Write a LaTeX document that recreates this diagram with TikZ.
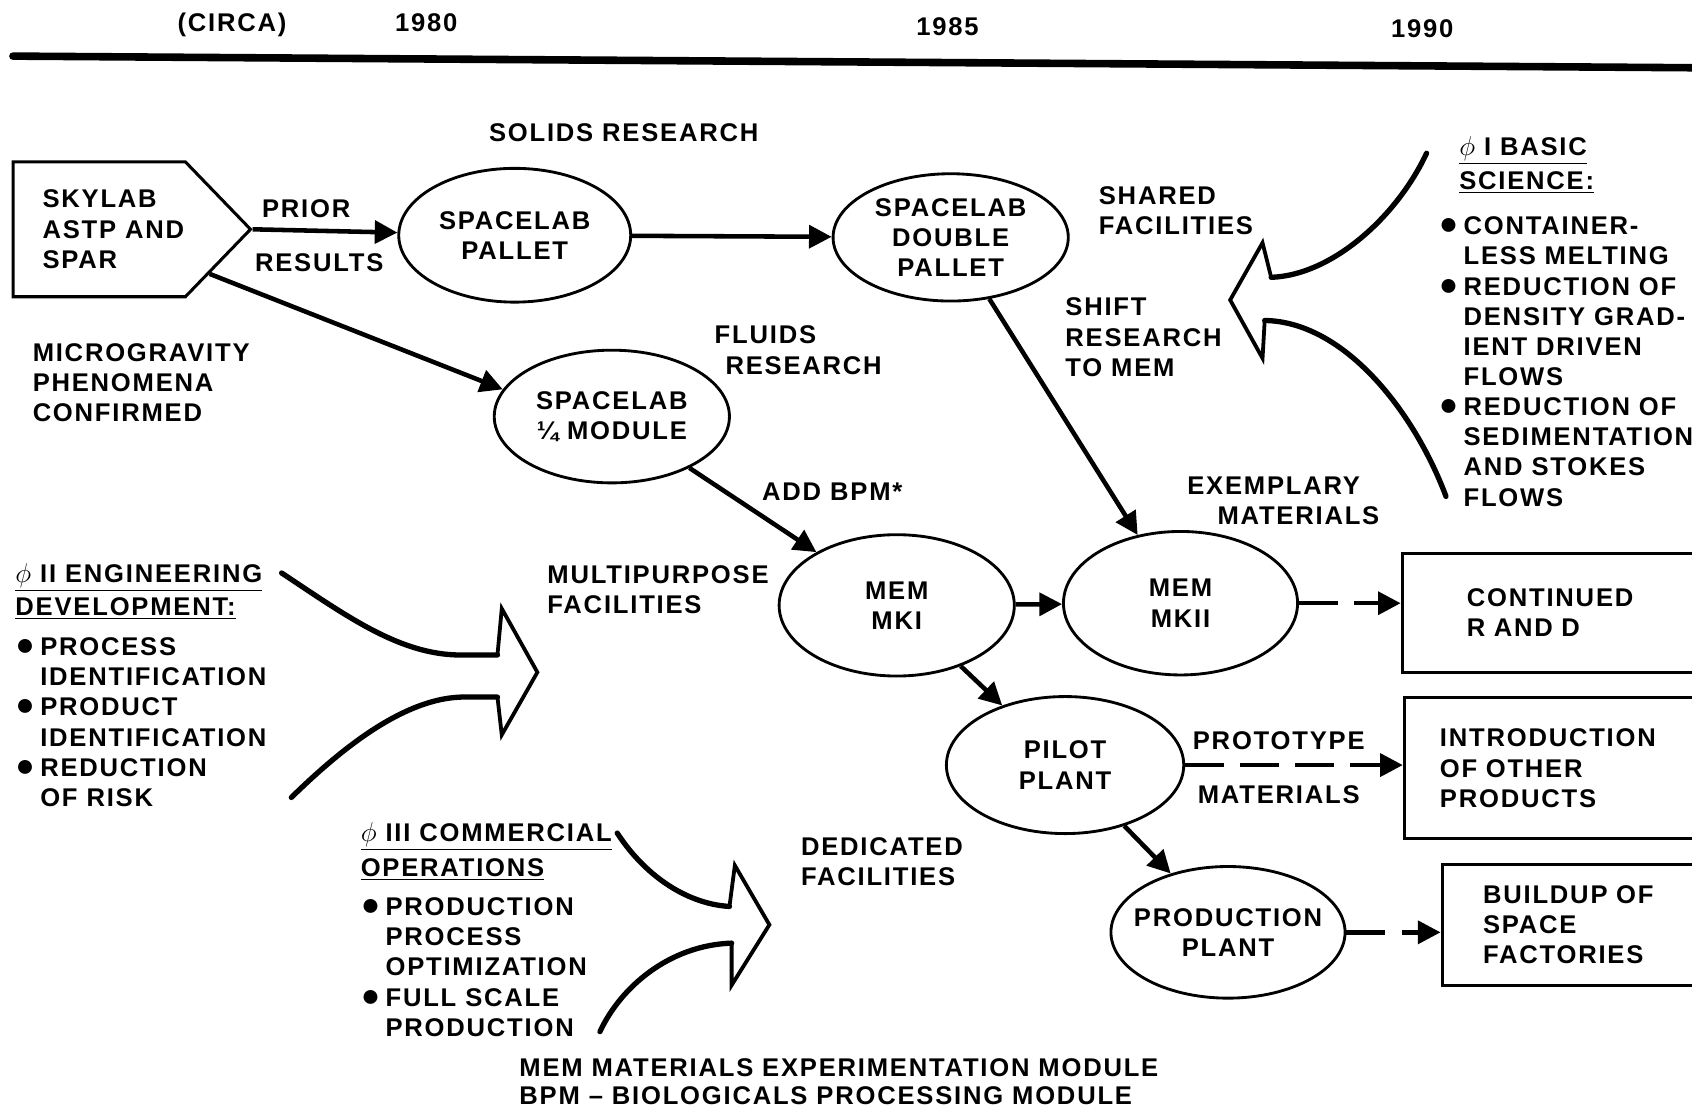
\documentclass[tikz,border=0pt]{standalone}
\usepackage{fontspec}
\setmainfont{Liberation Sans}[LetterSpace=7]
\usetikzlibrary{arrows.meta, positioning, shapes.geometric, shapes.symbols}

\newcommand{\itemdot}{\makebox[0.46cm][l]{\fontsize{17pt}{15.9pt}\selectfont ●}}
\newcommand{\itemgap}{\hspace*{0.46cm}}

\begin{document}
\begin{tikzpicture}[
		x=0.02cm, y=-0.02cm,
		font=\fontsize{13.5pt}{15.9pt}\selectfont\bfseries,
		tag/.style={inner sep=0pt, align=left},
		stage/.style={draw, ellipse, line width=1.5pt, inner sep=0pt, align=center, minimum width=4.36cm, minimum height=2.48cm},
		outcome/.style={draw, rectangle, line width=1.6pt, align=left, text width=6cm, inner ysep=0pt, anchor=west},
		arrow/.style={-{Triangle[length=4.2mm, width=4.2mm]}, line width=2.4pt},
		dasharrow/.style={arrow, dash pattern=on 0.72cm off 0.3cm},
		phase/.style={line width=2.8pt, line cap=round, line join=round},
		phasehead/.style={line width=2pt, line join=miter}
	]
	\clip (0,0) rectangle (1568,1027);

	% time scale
	\draw[line width=4pt, line cap=round] (12,52) -- (1600,63);
	\node[tag, anchor=base] (circa) at (215,29) {(CIRCA)};
	\node[tag, anchor=base] (y1980) at (395,29) {1980};
	\node[tag, anchor=base] (y1985) at (878,33) {1985};
	\node[tag, anchor=base] (y1990) at (1318,35) {1990};

	% flight stages
	\node[draw, signal, signal to=east, signal from=nowhere, signal pointer angle=92, line width=1.6pt, minimum width=4.4cm, minimum height=2.5cm, inner sep=0pt, align=left] (skylab) at (92,212.5) {\hspace*{0.52cm}SKYLAB\\\hspace*{0.52cm}ASTP AND\\\hspace*{0.52cm}SPAR};
	\node[stage, minimum width=4.3cm] (pallet) at (477,218) {SPACELAB\\PALLET};
	\node[stage, minimum height=2.36cm] (dpallet) at (881,220) {SPACELAB\\DOUBLE\\PALLET};
	\node[stage, minimum height=2.46cm] (quarter) at (567,386) {SPACELAB\\¼ MODULE};
	\node[stage, minimum height=2.62cm] (mki) at (831,561) {MEM\\MKI};
	\node[stage, minimum width=4.34cm, minimum height=2.66cm] (mkii) at (1094,559) {MEM\\MKII};
	\node[stage, minimum width=4.4cm, minimum height=2.54cm] (pilot) at (987,709) {PILOT\\PLANT};
	\node[stage, minimum width=4.34cm, minimum height=2.44cm] (prod) at (1138,864) {\makebox[2.8cm]{PRODUCTION}\\PLANT};

	% results
	\node[outcome, inner xsep=1.2cm, minimum height=2.2cm] (contd) at (1298,568) {CONTINUED\\R AND D};
	\node[outcome, inner xsep=0.66cm, minimum height=2.62cm] (intro) at (1300,712) {INTRODUCTION\\OF OTHER\\PRODUCTS};
	\node[outcome, inner xsep=0.76cm, minimum height=2.24cm] (buildup) at (1335,857) {BUILDUP OF\\SPACE\\FACTORIES};

	% labels
	\node[tag, anchor=base] (solids) at (578,131) {SOLIDS RESEARCH};
	\node[tag, anchor=north west] (micro) at (30,317.8) {MICROGRAVITY\\PHENOMENA\\CONFIRMED};
	\node[tag, anchor=north west] (shared) at (1018,172.8) {SHARED\\FACILITIES};
	\node[tag, anchor=north west] (shift) at (987,275.8) {SHIFT\\RESEARCH\\TO MEM};
	\node[tag, anchor=north west] (fluids) at (662,301.8) {FLUIDS\\\hspace*{0.2cm}RESEARCH};
	\node[tag, anchor=base west] (addbpm) at (706,464) {ADD BPM*};
	\node[tag, anchor=north west] (exempl) at (1100,441.8) {EXEMPLARY\\\hspace*{0.56cm}MATERIALS};
	\node[tag, anchor=north west] (multi) at (507,523.8) {MULTIPURPOSE\\FACILITIES};
	\node[tag, anchor=north west] (dedic) at (742,775.8) {DEDICATED\\FACILITIES};
	\node[tag, anchor=north west] (legend) at (481,980.8) {MEM MATERIALS EXPERIMENTATION MODULE\\[-0.04cm]BPM -- BIOLOGICALS PROCESSING MODULE};

	% phases
	\node[tag, anchor=north west] (phasei) at (1333,125.8) {\hspace*{0.38cm}\underline{$\phi$ I BASIC}\\[0.08cm]
		\hspace*{0.38cm}\underline{SCIENCE:}\\[0.28cm]
		\itemdot CONTAINER-\\ \itemgap LESS MELTING\\
		\itemdot REDUCTION OF\\ \itemgap DENSITY GRAD-\\ \itemgap IENT DRIVEN\\ \itemgap FLOWS\\
		\itemdot REDUCTION OF\\ \itemgap SEDIMENTATION\\ \itemgap AND STOKES\\ \itemgap FLOWS};
	\node[tag, anchor=north west] (phaseii) at (14,521.8) {\underline{$\phi$ II ENGINEERING}\\[0.06cm]
		\underline{DEVELOPMENT:}\\[0.18cm]
		\itemdot PROCESS\\ \itemgap IDENTIFICATION\\
		\itemdot PRODUCT\\ \itemgap IDENTIFICATION\\
		\itemdot REDUCTION\\ \itemgap OF RISK};
	\node[tag, anchor=north west] (phaseiii) at (334,761.8) {\underline{$\phi$ III COMMERCIAL}\\[0.1cm]
		\underline{OPERATIONS}\\[0.16cm]
		\itemdot PRODUCTION\\ \itemgap PROCESS\\ \itemgap OPTIMIZATION\\
		\itemdot FULL SCALE\\ \itemgap PRODUCTION};

	% connectors
	\draw[arrow] (skylab.east) -- (pallet)
		node[tag, pos=.37, above=0.19cm] (prior) {PRIOR}
		node[tag, pos=.46, below=0.39cm] (results) {RESULTS};
	\draw[arrow] (skylab.-22) -- (quarter.166);
	\draw[arrow] (pallet) -- (dpallet);
	\draw[arrow] (dpallet) -- (mkii);
	\draw[arrow] (quarter) -- (mki);
	\draw[arrow] (mki) -- (mkii);
	\draw[arrow] (mki) -- (pilot);
	\draw[arrow] (pilot) -- (prod);
	\draw[dasharrow] (mkii.east) -- (mkii.east -| contd.west);
	\draw[dasharrow] (pilot.east) -- (pilot.east -| intro.west)
		node[tag, pos=.43, above=0.25cm] (proto) {PROTOTYPE}
		node[tag, pos=.43, below=0.33cm] (protomat) {MATERIALS};
	\draw[dasharrow] (prod.east) -- (prod.east -| buildup.west);

	% big phase arrows
	\draw[phase] (1322,142) .. controls (1295,200) and (1235,255) .. (1178,257);
	\draw[phasehead] (1178,257) -- (1170,225) -- (1140,278) -- (1170,332) -- (1172,297);
	\draw[phase] (1172,297) .. controls (1245,298) and (1310,380) .. (1340,460);

	\draw[phase] (261,531) .. controls (320,570) and (370,607) .. (427,607) -- (461,607);
	\draw[phasehead] (461,607) -- (465,564) -- (498,623) -- (465,681) -- (461,646);
	\draw[phase] (461,646) -- (427,646) .. controls (370,648) and (310,700) .. (270,739);

	\draw[phase] (572,772) .. controls (600,815) and (640,838) .. (676,840);
	\draw[phasehead] (676,840) -- (681,802) -- (713,857) -- (678,913) -- (678,874);
	\draw[phase] (678,874) .. controls (620,876) and (575,915) .. (556,956);
\end{tikzpicture}
\end{document}
